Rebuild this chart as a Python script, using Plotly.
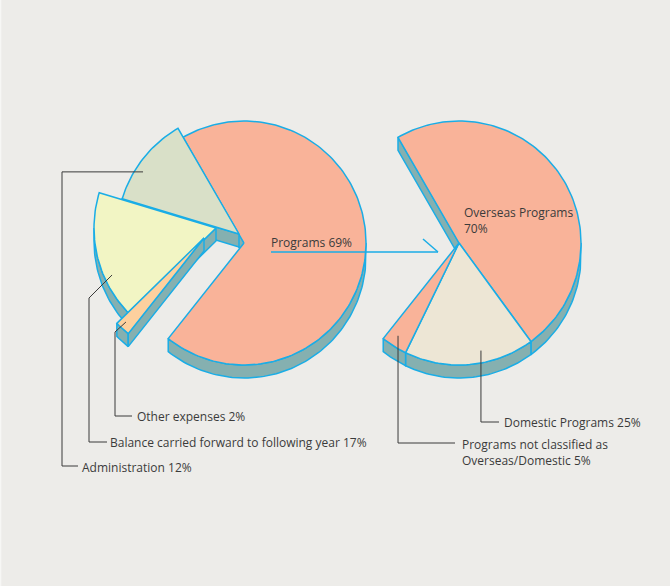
import numpy as np
import plotly.graph_objects as go

# ---------------- data ----------------
left_labels = ["Programs", "Administration",
               "Balance carried forward to following year", "Other expenses"]
left_values = [69, 12, 17, 2]
right_labels = ["Overseas Programs", "Domestic Programs",
                "Programs not classified as Overseas/Domestic"]
right_values = [70, 25, 5]

# ---------------- style ----------------
W, H = 670, 586
BG = "#edece9"
OUT = "#1aade6"
WALL = "#85b0b0"
TXT = "#3b3b3b"
LEAD = "#3a3a3a"
FONT = "Open Sans"
R = 122          # pie radius (px)
D = 13           # extrusion depth (px)
START = 120      # start angle (deg, math convention)

left_colors = ["#f9b399", "#d9e0c8", "#f2f5c4", "#fdd09e"]
right_colors = ["#f9b399", "#ede6d5", "#f9b399"]
left_center = (244, 243)
left_offsets = [(0, 0), (-5, -9), (-28, -15), (-40, -5)]
right_center = (459, 243)


def pt(c, th, rho):
    t = np.radians(th)
    return c[0] + rho * np.cos(t), c[1] - rho * np.sin(t)


def arc(c, a, b, rho=R, dy=0):
    n = max(2, int(abs(b - a) / 1.5) + 2)
    th = np.linspace(a, b, n)
    xs, ys = pt(c, th, rho)
    return list(xs), list(ys + dy)


fig = go.Figure()


def poly(xs, ys, fill):
    fig.add_trace(go.Scatter(x=xs + [xs[0]], y=ys + [ys[0]], mode="lines",
                             fill="toself", fillcolor=fill,
                             line=dict(color=OUT, width=1.5),
                             hoverinfo="skip", showlegend=False))


def lower_parts(lo, hi):
    parts = []
    for k in (-1, 0, 1):
        a, b = -180 + 360 * k, 360 * k
        s, e = max(lo, a), min(hi, b)
        if e > s:
            parts.append((s, e))
    return parts


def walls(c, lo, hi, side_lo=True, side_hi=True):
    for (s, e) in lower_parts(lo, hi):
        xt, yt = arc(c, s, e)
        xb, yb = arc(c, e, s, dy=D)
        poly(xt + xb, yt + yb, WALL)
    for ang, use, vis in ((lo, side_lo, np.cos(np.radians(lo)) > 0),
                          (hi, side_hi, np.cos(np.radians(hi)) < 0)):
        if use and vis:
            ox, oy = pt(c, ang, R)
            poly([c[0], ox, ox, c[0]], [c[1], oy, oy + D, c[1] + D], WALL)


def face(c, lo, hi, color):
    xs, ys = arc(c, lo, hi)
    poly([c[0]] + xs, [c[1]] + ys, color)


# ---- slice angles ----
left_slices = [(START - 3.6 * left_values[0], START)]
a = START
for v in left_values[1:]:
    left_slices.append((a, a + 3.6 * v))
    a += 3.6 * v

sweep = 3.6 * left_values[0]
right_slices = []
a = START
for v in right_values:
    right_slices.append((a - sweep * v / 100.0, a))
    a -= sweep * v / 100.0

# ---- left pie (exploded) ----
left_centers = []
for (lo, hi), col, off in zip(left_slices, left_colors, left_offsets):
    c = (left_center[0] + off[0], left_center[1] + off[1])
    left_centers.append(c)
    walls(c, lo, hi)
    face(c, lo, hi, col)

# ---- right pie ----
n = len(right_slices)
for i, (lo, hi) in enumerate(right_slices):
    walls(right_center, lo, hi, side_lo=(i == n - 1), side_hi=(i == 0))
for (lo, hi), col in zip(right_slices, right_colors):
    face(right_center, lo, hi, col)

# ---- arrow ----
fig.add_trace(go.Scatter(x=[271, 438, None, 423, 438], y=[252, 252, None, 239, 252],
                         mode="lines", line=dict(color=OUT, width=1.5),
                         hoverinfo="skip", showlegend=False))


def anchor(c, sl, f, rho):
    lo, hi = sl
    return pt(c, lo + f * (hi - lo), rho * R)


def lead(xs, ys):
    fig.add_trace(go.Scatter(x=xs, y=ys, mode="lines",
                             line=dict(color=LEAD, width=1),
                             hoverinfo="skip", showlegend=False))


annos = []


def label(x, y, text):
    annos.append(dict(x=x, y=y, xref="x", yref="y", text=text, showarrow=False,
                      xanchor="left", yanchor="middle", align="left", borderpad=0,
                      font=dict(family=FONT, size=12, color=TXT)))


# Administration
ax, ay = anchor(left_centers[1], left_slices[1], 0.627, 0.937)
lead([ax, 62, 62, 78], [ay, ay, 466, 466])
label(81, 467, f"{left_labels[1]} {left_values[1]}%")
# Balance
ax, ay = anchor(left_centers[2], left_slices[2], 0.672, 0.935)
lead([ax, 89, 89, 107], [ay, 298, 442, 442])
label(109, 442, f"{left_labels[2]} {left_values[2]}%")
# Other
ax, ay = anchor(left_centers[3], left_slices[3], 0.375, 0.94)
lead([ax, 115, 115, 132], [ay, 332, 416, 416])
label(136, 416, f"{left_labels[3]} {left_values[3]}%")
# Programs
label(270, 242, f"{left_labels[0]} {left_values[0]}%")

# Overseas
label(463, 220, f"{right_labels[0]}<br>{right_values[0]}%")
# Domestic
ax, ay = anchor(right_center, right_slices[1], 0.604, 0.90)
lead([ax, ax, 499], [ay, 422, 422])
label(503, 422, f"{right_labels[1]} {right_values[1]}%")
# Not classified
ax, ay = anchor(right_center, right_slices[2], 0.41, 0.91)
lead([ax, ax, 455], [ay, 443, 443])
label(461, 452, "Programs not classified as<br>Overseas/Domestic " + f"{right_values[2]}%")

fig.update_layout(
    width=W, height=H, autosize=False,
    margin=dict(l=0, r=0, t=0, b=0),
    paper_bgcolor=BG, plot_bgcolor=BG,
    xaxis=dict(range=[0, W], visible=False, fixedrange=True),
    yaxis=dict(range=[H, 0], visible=False, fixedrange=True),
    showlegend=False,
    annotations=annos,
    shapes=[dict(type="rect", xref="paper", yref="paper", x0=0, x1=0.002, y0=0, y1=1,
                 fillcolor="#f7f7f5", line=dict(width=0), layer="above")],
)

fig.write_html("out.html")
